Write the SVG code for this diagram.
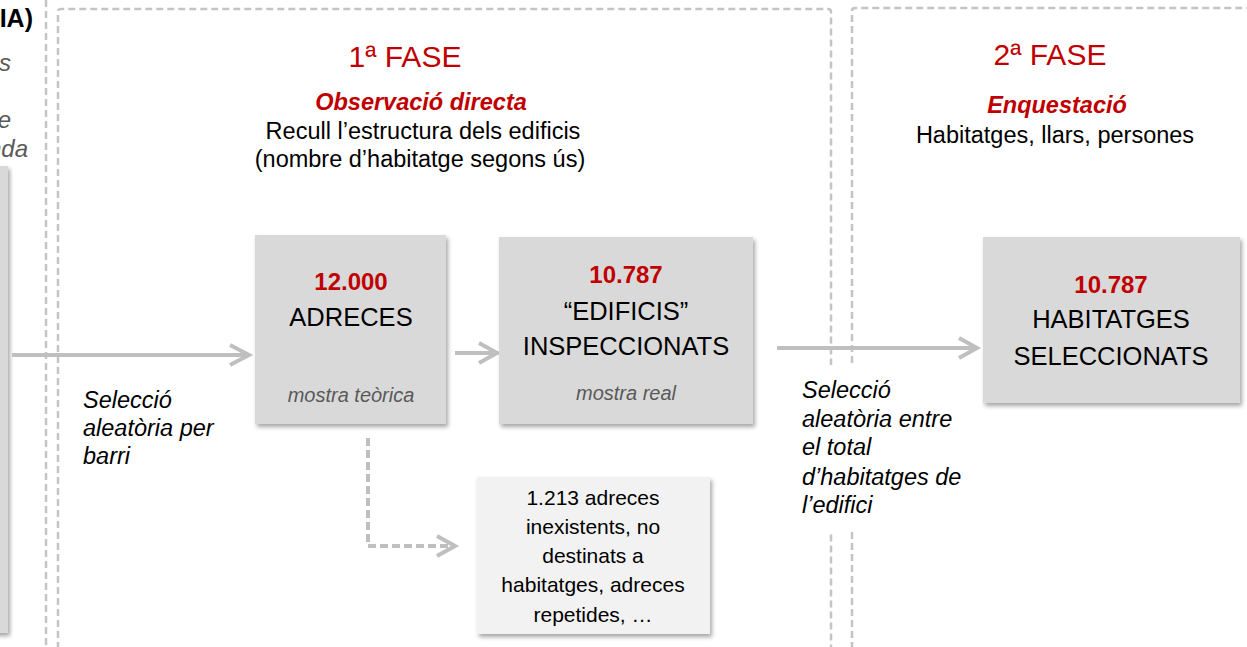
<svg xmlns="http://www.w3.org/2000/svg" width="1247" height="647" viewBox="0 0 1247 647">
<style>
text{font-family:"Liberation Sans",Arial,sans-serif;}
.frame{fill:none;stroke:#c4c4c4;stroke-width:2.5;stroke-dasharray:7 4;}
.box{fill:#d9d9d9;filter:url(#sh);}
.sbox{fill:#f2f2f2;filter:url(#sh);}
.num{font-weight:bold;font-size:24px;fill:#c00000;text-anchor:middle;}
.big{font-size:25.5px;fill:#000;text-anchor:middle;}
.sub{font-style:italic;font-size:20px;fill:#595959;text-anchor:middle;}
.lbl{font-style:italic;font-size:23.5px;fill:#000;}
.gray{font-style:italic;font-size:24px;fill:#595959;text-anchor:end;}
.title{font-size:30px;fill:#c00000;text-anchor:middle;}
.head{font-weight:bold;font-style:italic;font-size:23.5px;fill:#c00000;text-anchor:middle;}
.body{font-size:23.5px;fill:#000;text-anchor:middle;}
.small{font-size:21px;fill:#000;text-anchor:middle;}
.arr{fill:none;stroke:#bfbfbf;stroke-width:4;}
.darr{fill:none;stroke:#bfbfbf;stroke-width:4;stroke-dasharray:8 4;}
.head-ch{fill:none;stroke:#bfbfbf;stroke-width:4;stroke-linecap:butt;stroke-linejoin:miter;}
</style>
<defs>
<filter id="sh" x="-10%" y="-10%" width="125%" height="125%">
<feDropShadow dx="2" dy="3" stdDeviation="2" flood-color="#000" flood-opacity="0.35"/>
</filter>
</defs>
<rect width="1247" height="647" fill="#fff"/>

<g id="frames">
<line class="frame" x1="46" y1="0" x2="46" y2="647"/>
<path class="frame" d="M58,660 V12 Q58,9 61,9 H828 Q831,9 831,12 V660"/>
<path class="frame" d="M852,660 V11 Q852,8 855,8 H1260"/>
</g>

<g id="left-partial">
<text x="33" y="27" style="font-weight:bold;font-size:25px;fill:#000;text-anchor:end;">IA)</text>
<text class="gray" x="11" y="71">s</text>
<text class="gray" x="11" y="128">e</text>
<text class="gray" x="28" y="157">nda</text>
<rect class="box" x="-20" y="166" width="28" height="467"/>
</g>

<g id="phase1-header">
<text class="title" x="405" y="67">1ª FASE</text>
<text class="head" x="421" y="110">Observació directa</text>
<text class="body" x="423" y="139">Recull l’estructura dels edificis</text>
<text class="body" x="420" y="167">(nombre d’habitatge segons ús)</text>
</g>

<g id="phase2-header">
<text class="title" x="1050" y="65">2ª FASE</text>
<text class="head" x="1057" y="113">Enquestació</text>
<text class="body" x="1055" y="143">Habitatges, llars, persones</text>
</g>

<g id="connectors">
<path class="arr" d="M12,355 H248"/>
<path class="head-ch" d="M230,345 L249,355 L230,365"/>
<path class="arr" d="M455,353 H496"/>
<path class="head-ch" d="M479,343 L497,353 L479,363"/>
<path class="arr" d="M777,348 H976"/>
<path class="head-ch" d="M959,338 L977,348 L959,358"/>
<path class="darr" d="M368,438 V546 H452"/>
<path class="head-ch" d="M437,536 L455,546 L437,556"/>
</g>

<g id="label-barri">
<text class="lbl" x="83" y="408">Selecció</text>
<text class="lbl" x="83" y="436">aleatòria per</text>
<text class="lbl" x="83" y="464">barri</text>
</g>

<g id="label-edifici">
<rect x="796" y="365" width="176" height="167" fill="#fff"/>
<text class="lbl" x="802" y="398">Selecció</text>
<text class="lbl" x="802" y="427">aleatòria entre</text>
<text class="lbl" x="802" y="455">el total</text>
<text class="lbl" x="802" y="485">d’habitatges de</text>
<text class="lbl" x="802" y="513">l’edifici</text>
</g>

<g id="node-adreces">
<rect class="box" x="255" y="235" width="191" height="189"/>
<text class="num" x="351" y="290">12.000</text>
<text class="big" x="351" y="326">ADRECES</text>
<text class="sub" x="351" y="402">mostra teòrica</text>
</g>

<g id="node-edificis">
<rect class="box" x="499" y="237" width="254" height="187"/>
<text class="num" x="626" y="283">10.787</text>
<text class="big" x="626" y="320">“EDIFICIS”</text>
<text class="big" x="626" y="355">INSPECCIONATS</text>
<text class="sub" x="626" y="400">mostra real</text>
</g>

<g id="node-habitatges">
<rect class="box" x="983" y="237" width="257" height="166"/>
<text class="num" x="1111" y="293">10.787</text>
<text class="big" x="1111" y="328">HABITATGES</text>
<text class="big" x="1111" y="365">SELECCIONATS</text>
</g>

<g id="node-excluded">
<rect class="sbox" x="477" y="477" width="233" height="157"/>
<text class="small" x="593" y="505">1.213 adreces</text>
<text class="small" x="593" y="534">inexistents, no</text>
<text class="small" x="593" y="563">destinats a</text>
<text class="small" x="593" y="592">habitatges, adreces</text>
<text class="small" x="593" y="622">repetides, …</text>
</g>
</svg>
